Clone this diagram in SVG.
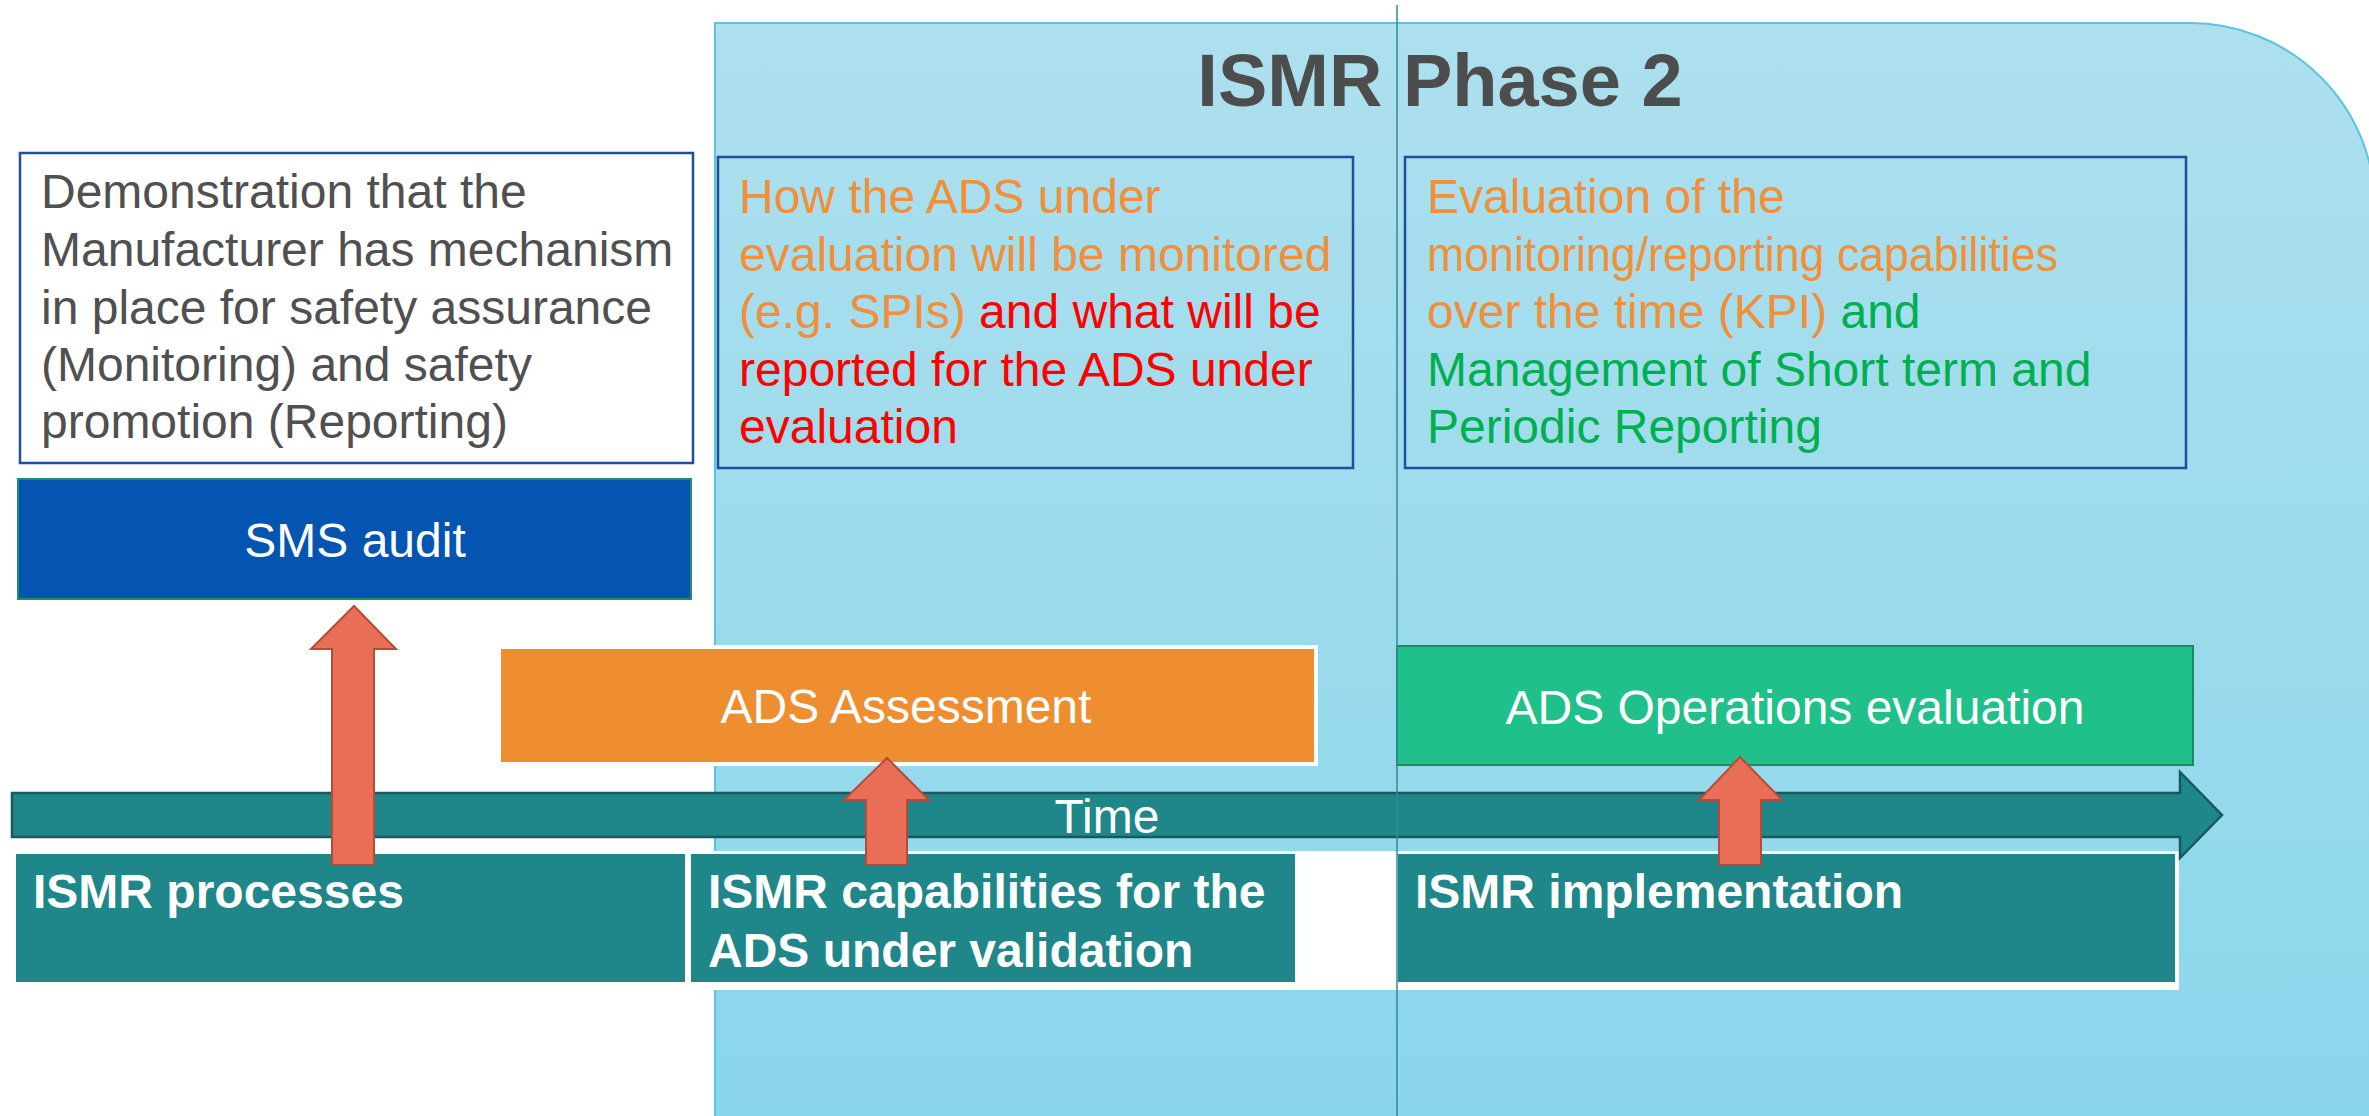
<svg xmlns="http://www.w3.org/2000/svg" width="2369" height="1116" viewBox="0 0 2369 1116">
<defs>
<linearGradient id="bg" x1="0" y1="0" x2="0" y2="1">
<stop offset="0" stop-color="#AEE0EE"/>
<stop offset="1" stop-color="#8AD6EB"/>
</linearGradient>
</defs>
<style>
text{font-family:"Liberation Sans",Arial,sans-serif;}
.body{font-size:48px;}
.gray{fill:#505050;}
.org{fill:#F0903A;}
.red{fill:#FF0000;}
.grn{fill:#00B050;}
.wt{fill:#FFFFFF;}
.bold{font-weight:bold;}
.tbox{fill:none;stroke:#1F4E9A;stroke-width:2.5;}
.teal{fill:#1F8689;stroke:#FFFFFF;stroke-width:2;}
.red-arrow{fill:#E86E55;stroke:#B84A3A;stroke-width:2;}
</style>
<g id="phase2-area">
<path d="M715,23 H2190 A185,185 0 0 1 2375,208 V1120 H715 Z" fill="url(#bg)" stroke="#5BC3DD" stroke-width="2"/>
<text x="1440" y="106" font-size="74" font-weight="bold" fill="#4D4D4D" text-anchor="middle">ISMR Phase 2</text>
</g>
<rect x="0" y="851" width="2179" height="139" fill="#FFFFFF"/>
<g id="demo-box">
<rect x="20" y="153" width="673" height="310" fill="#FFFFFF" stroke="#1F4E9A" stroke-width="2.5"/>
<text class="body gray"><tspan x="41" y="208">Demonstration that the</tspan><tspan x="41" y="266">Manufacturer has mechanism</tspan><tspan x="41" y="324">in place for safety assurance</tspan><tspan x="41" y="381">(Monitoring) and safety</tspan><tspan x="41" y="438">promotion (Reporting)</tspan></text>
</g>
<g id="monitor-box">
<rect class="tbox" x="718" y="157" width="635" height="311"/>
<text class="body"><tspan class="org" x="739" y="213">How the ADS under</tspan><tspan class="org" x="739" y="271">evaluation will be monitored</tspan><tspan class="org" x="739" y="328">(e.g. SPIs)</tspan><tspan class="red"> and what will be</tspan><tspan class="red" x="739" y="386">reported for the ADS under</tspan><tspan class="red" x="739" y="443">evaluation</tspan></text>
</g>
<g id="kpi-box">
<rect class="tbox" x="1405" y="157" width="781" height="311"/>
<text class="body org" x="1427" y="213">Evaluation of the</text>
<text class="body org" x="1427" y="271" textLength="631" lengthAdjust="spacingAndGlyphs">monitoring/reporting capabilities</text>
<text class="body"><tspan class="org" x="1427" y="328">over the time (KPI)</tspan><tspan class="grn"> and</tspan><tspan class="grn" x="1427" y="386">Management of Short term and</tspan><tspan class="grn" x="1427" y="443">Periodic Reporting</tspan></text>
</g>
<g id="sms-audit">
<rect x="18" y="479" width="673" height="120" fill="#0455B2" stroke="#1F8F6A" stroke-width="2"/>
<text class="body wt" x="355" y="557" text-anchor="middle">SMS audit</text>
</g>
<g id="ads-assessment">
<rect x="499" y="647" width="817" height="117" fill="#EE8E30" stroke="#FFFFFF" stroke-width="4"/>
<text class="body wt" x="906" y="723" text-anchor="middle">ADS Assessment</text>
</g>
<g id="ads-operations">
<rect x="1397" y="646" width="796" height="119" fill="#20C08A" stroke="#1A8A64" stroke-width="2"/>
<text class="body wt" x="1795" y="724" text-anchor="middle">ADS Operations evaluation</text>
</g>
<g id="time-axis">
<path d="M12,793 H2180 V772 L2222,815 L2180,858 V837 H12 Z" fill="#1F8689" stroke="#165A5E" stroke-width="2.5"/>
<text class="body wt" x="1107" y="833" text-anchor="middle">Time</text>
</g>
<g id="ismr-processes">
<rect class="teal" x="15" y="853" width="671" height="130"/>
<text class="body wt bold" x="33" y="908">ISMR processes</text>
</g>
<g id="ismr-capabilities">
<rect class="teal" x="690" y="853" width="606" height="130"/>
<text class="body wt bold"><tspan x="708" y="908">ISMR capabilities for the</tspan><tspan x="708" y="967">ADS under validation</tspan></text>
</g>
<g id="ismr-implementation">
<rect class="teal" x="1397" y="853" width="779" height="130"/>
<text class="body wt bold" x="1415" y="908">ISMR implementation</text>
</g>
<g id="connectors">
<path class="red-arrow" d="M354,606 L396,649 L374,649 L374,865 L332,865 L332,649 L311,649 Z"/>
<path class="red-arrow" d="M887,758 L929,800 L907,800 L907,865 L866,865 L866,800 L844,800 Z"/>
<path class="red-arrow" d="M1740,757 L1782,800 L1761,800 L1761,865 L1719,865 L1719,800 L1699,800 Z"/>
</g>
<line x1="1397" y1="5" x2="1397" y2="1116" stroke="#2E8B9A" stroke-width="1.5"/>
</svg>
